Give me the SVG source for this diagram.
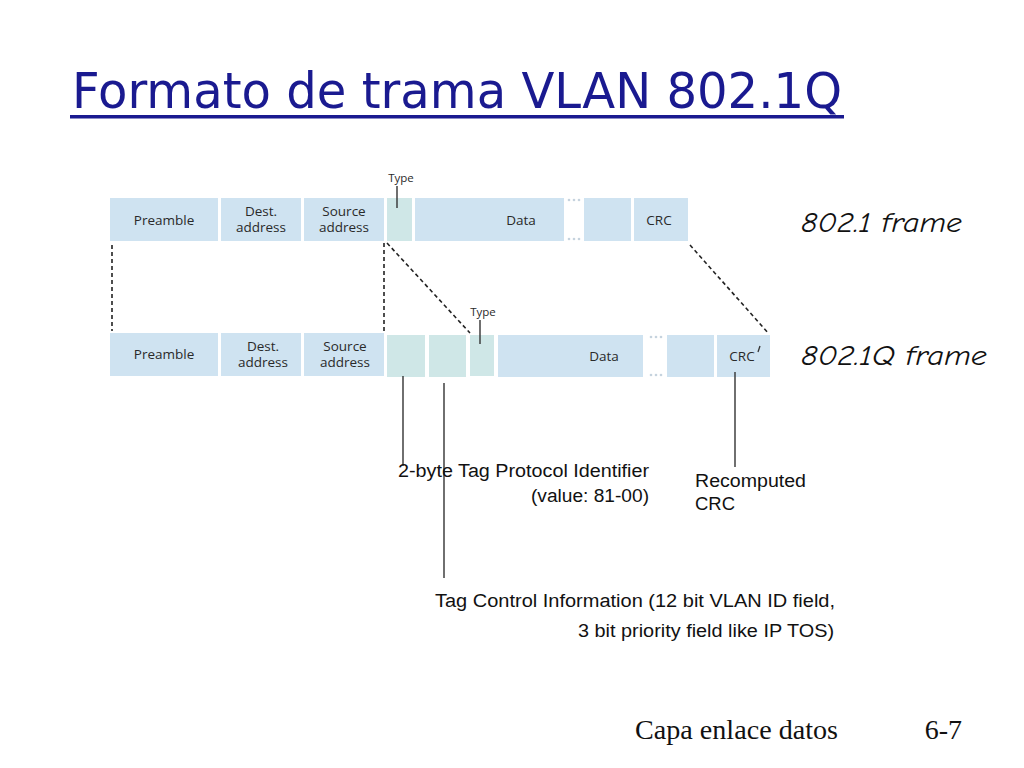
<svg xmlns="http://www.w3.org/2000/svg" width="1024" height="768" viewBox="0 0 1024 768">
<defs>
<style>
.box{fill:#cfe3f1;}
.tag{fill:#cfe7e7;}
.bl{font-family:"Open Sans","Noto Sans",sans-serif;font-size:13.5px;fill:#2a2a2a;text-anchor:middle;}
.tl{font-family:"Open Sans","Noto Sans",sans-serif;font-size:11.5px;fill:#2a2a2a;text-anchor:middle;}
.ann{font-family:"Liberation Sans",Arial,sans-serif;font-size:18px;fill:#111;}
.dash{stroke:#222;stroke-width:1.6;stroke-dasharray:4,3;fill:none;}
.lead{stroke:#333;stroke-width:1.4;fill:none;}
.dot{fill:#c6d3de;}
.fr{font-family:"Comic Neue","DejaVu Sans",sans-serif;font-style:italic;font-size:29px;fill:#111;}
</style>
</defs>
<rect width="1024" height="768" fill="#fff"/>
<g id="title">
<text x="72" y="108" font-family="DejaVu Sans, sans-serif" font-size="50" fill="#1a1a90" textLength="770" lengthAdjust="spacingAndGlyphs">Formato de trama VLAN 802.1Q</text>
<rect x="70" y="115" width="774" height="3.5" fill="#1a1a90"/>
</g>
<g id="frame-8021">
<rect class="box" x="110" y="198" width="108" height="43"/>
<rect class="box" x="221" y="198" width="80" height="43"/>
<rect class="box" x="304" y="198" width="80" height="43"/>
<rect class="tag" x="387" y="198" width="25" height="43"/>
<rect class="box" x="415" y="198" width="149" height="43"/>
<rect class="box" x="584" y="198" width="47" height="43"/>
<rect class="box" x="634" y="198" width="54" height="43"/>
<g class="dot"><circle cx="569" cy="200" r="1.3"/><circle cx="574" cy="200" r="1.3"/><circle cx="579" cy="200" r="1.3"/><circle cx="569" cy="239" r="1.3"/><circle cx="574" cy="239" r="1.3"/><circle cx="579" cy="239" r="1.3"/></g>
<text class="bl" x="164" y="225">Preamble</text>
<text class="bl" x="261" y="216">Dest.</text>
<text class="bl" x="261" y="232">address</text>
<text class="bl" x="344" y="216">Source</text>
<text class="bl" x="344" y="232">address</text>
<text class="bl" x="521" y="225">Data</text>
<text class="bl" x="659" y="225">CRC</text>
<text class="tl" x="401" y="182">Type</text>
<line class="lead" x1="397" y1="186" x2="397" y2="208"/>
</g>
<g id="frame-8021q">
<rect class="box" x="110" y="333" width="108" height="43"/>
<rect class="box" x="221" y="333" width="80" height="43"/>
<rect class="box" x="304" y="333" width="80" height="43"/>
<rect class="tag" x="387" y="335" width="38" height="42"/>
<rect class="tag" x="429" y="335" width="37" height="42"/>
<rect class="tag" x="470" y="335" width="24" height="41"/>
<rect class="box" x="498" y="335" width="145" height="42"/>
<rect class="box" x="667" y="335" width="47" height="42"/>
<rect class="box" x="717" y="335" width="53" height="42"/>
<g class="dot"><circle cx="651" cy="337" r="1.3"/><circle cx="656" cy="337" r="1.3"/><circle cx="661" cy="337" r="1.3"/><circle cx="651" cy="375" r="1.3"/><circle cx="656" cy="375" r="1.3"/><circle cx="661" cy="375" r="1.3"/></g>
<text class="bl" x="164" y="359">Preamble</text>
<text class="bl" x="263" y="351">Dest.</text>
<text class="bl" x="263" y="367">address</text>
<text class="bl" x="345" y="351">Source</text>
<text class="bl" x="345" y="367">address</text>
<text class="bl" x="604" y="361">Data</text>
<text class="bl" x="742" y="361">CRC</text>
<line x1="760" y1="346" x2="758" y2="352" stroke="#333" stroke-width="1.3"/>
<text class="tl" x="483" y="316">Type</text>
<line class="lead" x1="480" y1="320" x2="480" y2="344"/>
</g>
<g id="connectors">
<line class="dash" x1="112" y1="245" x2="112" y2="331"/>
<line class="dash" x1="384" y1="243" x2="384" y2="331"/>
<line class="dash" x1="387" y1="243" x2="470" y2="333"/>
<line class="dash" x1="690" y1="245" x2="769" y2="334"/>
<line class="lead" x1="403" y1="376" x2="403" y2="466"/>
<line class="lead" x1="444" y1="383" x2="444" y2="578"/>
<line class="lead" x1="735" y1="372" x2="735" y2="467"/>
</g>
<g id="labels">
<text class="fr" x="801" y="232" textLength="161" lengthAdjust="spacingAndGlyphs">802.1 frame</text>
<text class="fr" x="801" y="365" textLength="186" lengthAdjust="spacingAndGlyphs">802.1Q frame</text>
<text class="ann" x="398" y="477" textLength="251" lengthAdjust="spacingAndGlyphs">2-byte Tag Protocol Identifier</text>
<text class="ann" x="531" y="502" textLength="118" lengthAdjust="spacingAndGlyphs">(value: 81-00)</text>
<text class="ann" x="695" y="487" textLength="111" lengthAdjust="spacingAndGlyphs">Recomputed</text>
<text class="ann" x="695" y="510" textLength="40" lengthAdjust="spacingAndGlyphs">CRC</text>
<text class="ann" x="435" y="607" textLength="400" lengthAdjust="spacingAndGlyphs">Tag Control Information (12 bit VLAN ID field,</text>
<text class="ann" x="578" y="637" textLength="256" lengthAdjust="spacingAndGlyphs">3 bit priority field like IP TOS)</text>
</g>
<g id="footer">
<text x="635" y="739" font-family="Liberation Serif, serif" font-size="28" fill="#111" textLength="203" lengthAdjust="spacingAndGlyphs">Capa enlace datos</text>
<text x="962" y="739" font-family="Liberation Serif, serif" font-size="28" fill="#111" text-anchor="end">6-7</text>
</g>
</svg>
